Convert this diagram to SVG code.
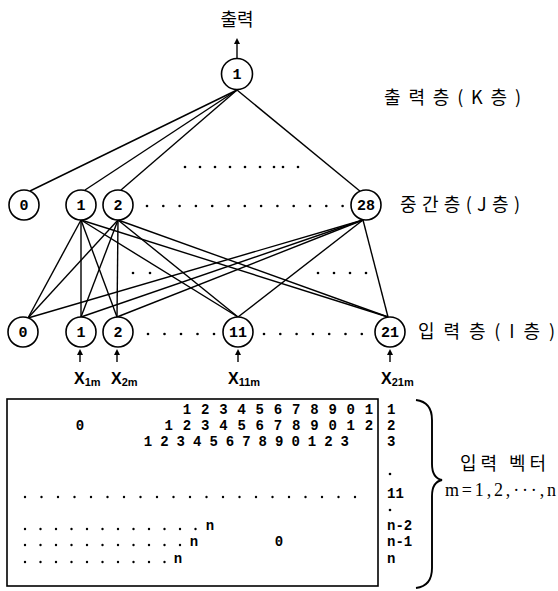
<svg xmlns="http://www.w3.org/2000/svg" width="558" height="591" viewBox="0 0 558 591">
<style>
.n{fill:#fff;stroke:#000;stroke-width:1.6}
.nl{font-family:"Liberation Mono","DejaVu Sans Mono",monospace;font-weight:bold;font-size:15px;text-anchor:middle}
.ko{font-family:"Noto Sans CJK KR","Noto Sans",sans-serif;font-size:18px}
.lat{font-family:"Liberation Serif",serif;font-size:18px}
.dg{font-family:"Liberation Mono","DejaVu Sans Mono",monospace;font-weight:bold;font-size:14px;text-anchor:middle}
.rl{font-family:"Liberation Mono","DejaVu Sans Mono",monospace;font-weight:bold;font-size:14px}
.xl{font-family:"Liberation Sans",Arial,sans-serif;font-weight:bold;font-size:16px}
.xs{font-size:11px}
.c line{stroke:#000;stroke-width:1.4}
.ar{stroke:#000;stroke-width:1.6}
.d{fill:#000}
</style>
<defs>
<marker id="ah" markerWidth="6" markerHeight="6" refX="3" refY="3" orient="auto" markerUnits="userSpaceOnUse">
<path d="M0,0 L6,3 L0,6 Z" fill="#000"/>
</marker>
</defs>

<g id="connectors" class="c">
<line x1="237" y1="90" x2="30" y2="191"/>
<line x1="237" y1="90" x2="85" y2="190"/>
<line x1="237" y1="90" x2="121" y2="190"/>
<line x1="237" y1="90" x2="361" y2="192"/>
<line x1="81" y1="220" x2="28" y2="318"/>
<line x1="81" y1="220" x2="81" y2="317"/>
<line x1="81" y1="220" x2="117" y2="317"/>
<line x1="81" y1="220" x2="238" y2="317"/>
<line x1="81" y1="220" x2="388" y2="317"/>
<line x1="118" y1="220" x2="28" y2="318"/>
<line x1="118" y1="220" x2="81" y2="317"/>
<line x1="118" y1="220" x2="117" y2="317"/>
<line x1="118" y1="220" x2="238" y2="317"/>
<line x1="118" y1="220" x2="388" y2="317"/>
<line x1="363" y1="220" x2="28" y2="318"/>
<line x1="363" y1="220" x2="81" y2="317"/>
<line x1="363" y1="220" x2="117" y2="317"/>
<line x1="363" y1="220" x2="238" y2="317"/>
<line x1="363" y1="220" x2="388" y2="317"/>
<line class="ar" x1="237" y1="58" x2="237" y2="41" marker-end="url(#ah)"/>
<line class="ar" x1="80" y1="362" x2="80" y2="352" marker-end="url(#ah)"/>
<line class="ar" x1="117" y1="362" x2="117" y2="352" marker-end="url(#ah)"/>
<line class="ar" x1="238" y1="362" x2="238" y2="352" marker-end="url(#ah)"/>
<line class="ar" x1="390" y1="362" x2="390" y2="352" marker-end="url(#ah)"/>
</g>

<text class="ko" x="237" y="26" text-anchor="middle">출력</text>
<g id="out1"><circle class="n" cx="237" cy="74" r="15.5"/><text class="nl" x="237" y="79">1</text></g>
<text class="ko" x="384" y="104" textLength="137" lengthAdjust="spacing">출력층(K층)</text>

<g class="d">
<circle cx="185" cy="167" r="1.3"/><circle cx="200" cy="167" r="1.3"/><circle cx="215" cy="167" r="1.3"/><circle cx="230" cy="167" r="1.3"/><circle cx="245" cy="167" r="1.3"/><circle cx="260" cy="167" r="1.3"/><circle cx="274" cy="167" r="1.3"/><circle cx="283" cy="167" r="1.3"/><circle cx="298" cy="167" r="1.3"/>
</g>

<g id="h0"><circle class="n" cx="24" cy="205" r="15"/><text class="nl" x="24" y="210">0</text></g>
<g id="h1"><circle class="n" cx="81" cy="205" r="15"/><text class="nl" x="81" y="210">1</text></g>
<g id="h2"><circle class="n" cx="118" cy="205" r="15"/><text class="nl" x="118" y="210">2</text></g>
<g id="h28"><circle class="n" cx="366" cy="205" r="15"/><text class="nl" x="366" y="210">28</text></g>
<text class="ko" x="400" y="211" textLength="120" lengthAdjust="spacing">중간층(J층)</text>
<g class="d">
<circle cx="147" cy="206" r="1.3"/><circle cx="163.3" cy="206" r="1.3"/><circle cx="179.6" cy="206" r="1.3"/><circle cx="195.9" cy="206" r="1.3"/><circle cx="212.2" cy="206" r="1.3"/><circle cx="228.5" cy="206" r="1.3"/><circle cx="244.8" cy="206" r="1.3"/><circle cx="261.1" cy="206" r="1.3"/><circle cx="277.4" cy="206" r="1.3"/><circle cx="293.7" cy="206" r="1.3"/><circle cx="310" cy="206" r="1.3"/><circle cx="326.3" cy="206" r="1.3"/><circle cx="342.6" cy="206" r="1.3"/>
<circle cx="133" cy="273" r="1.3"/><circle cx="150" cy="273" r="1.3"/>
<circle cx="318" cy="273" r="1.3"/><circle cx="334" cy="273" r="1.3"/><circle cx="350" cy="273" r="1.3"/><circle cx="366" cy="273" r="1.3"/>
</g>

<g id="i0"><circle class="n" cx="23" cy="332" r="15"/><text class="nl" x="23" y="337">0</text></g>
<g id="i1"><circle class="n" cx="81" cy="332" r="15"/><text class="nl" x="81" y="337">1</text></g>
<g id="i2"><circle class="n" cx="118" cy="332" r="15"/><text class="nl" x="118" y="337">2</text></g>
<g id="i11"><circle class="n" cx="238" cy="332" r="15"/><text class="nl" x="238" y="337">11</text></g>
<g id="i21"><circle class="n" cx="390" cy="332" r="15"/><text class="nl" x="390" y="337">21</text></g>
<text class="ko" x="418" y="338" textLength="137" lengthAdjust="spacing">입력층(I층)</text>
<g class="d">
<circle cx="148" cy="334" r="1.3"/><circle cx="164.5" cy="334" r="1.3"/><circle cx="181" cy="334" r="1.3"/><circle cx="197.5" cy="334" r="1.3"/><circle cx="214" cy="334" r="1.3"/>
<circle cx="264" cy="334" r="1.3"/><circle cx="280.3" cy="334" r="1.3"/><circle cx="296.6" cy="334" r="1.3"/><circle cx="312.9" cy="334" r="1.3"/><circle cx="329.2" cy="334" r="1.3"/><circle cx="345.5" cy="334" r="1.3"/><circle cx="361.8" cy="334" r="1.3"/>
</g>

<text class="xl" x="74" y="384">X<tspan class="xs" dy="2">1m</tspan></text>
<text class="xl" x="111" y="384">X<tspan class="xs" dy="2">2m</tspan></text>
<text class="xl" x="228" y="384">X<tspan class="xs" dy="2">11m</tspan></text>
<text class="xl" x="381" y="384">X<tspan class="xs" dy="2">21m</tspan></text>

<g id="vectors">
<rect x="7" y="399" width="371" height="187" fill="none" stroke="#000" stroke-width="1.6"/>
<text class="dg" y="414" x="187 205.2 223.4 241.6 259.8 278 296.2 314.4 332.6 350.8 369">12345678901</text>
<text class="dg" y="430" x="80">0</text>
<text class="dg" y="430" x="168.8 187 205.2 223.4 241.6 259.8 278 296.2 314.4 332.6 350.8 369">123456789012</text>
<text class="dg" y="446" x="148 164.4 180.8 197.2 213.6 230 246.4 262.8 279.2 295.6 312 328.4 344.8">1234567890123</text>
<g class="d">
<circle cx="25" cy="497" r="1.2"/><circle cx="41.5" cy="497" r="1.2"/><circle cx="58" cy="497" r="1.2"/><circle cx="74.5" cy="497" r="1.2"/><circle cx="91" cy="497" r="1.2"/><circle cx="107.5" cy="497" r="1.2"/><circle cx="124" cy="497" r="1.2"/><circle cx="140.5" cy="497" r="1.2"/><circle cx="157" cy="497" r="1.2"/><circle cx="173.5" cy="497" r="1.2"/><circle cx="190" cy="497" r="1.2"/><circle cx="206.5" cy="497" r="1.2"/><circle cx="223" cy="497" r="1.2"/><circle cx="239.5" cy="497" r="1.2"/><circle cx="256" cy="497" r="1.2"/><circle cx="272.5" cy="497" r="1.2"/><circle cx="289" cy="497" r="1.2"/><circle cx="305.5" cy="497" r="1.2"/><circle cx="322" cy="497" r="1.2"/><circle cx="338.5" cy="497" r="1.2"/><circle cx="355" cy="497" r="1.2"/>
<circle cx="25" cy="529" r="1.2"/><circle cx="40.5" cy="529" r="1.2"/><circle cx="56" cy="529" r="1.2"/><circle cx="71.5" cy="529" r="1.2"/><circle cx="87" cy="529" r="1.2"/><circle cx="102.5" cy="529" r="1.2"/><circle cx="118" cy="529" r="1.2"/><circle cx="133.5" cy="529" r="1.2"/><circle cx="149" cy="529" r="1.2"/><circle cx="164.5" cy="529" r="1.2"/><circle cx="180" cy="529" r="1.2"/><circle cx="195.5" cy="529" r="1.2"/>
<circle cx="25" cy="545" r="1.2"/><circle cx="40.5" cy="545" r="1.2"/><circle cx="56" cy="545" r="1.2"/><circle cx="71.5" cy="545" r="1.2"/><circle cx="87" cy="545" r="1.2"/><circle cx="102.5" cy="545" r="1.2"/><circle cx="118" cy="545" r="1.2"/><circle cx="133.5" cy="545" r="1.2"/><circle cx="149" cy="545" r="1.2"/><circle cx="164.5" cy="545" r="1.2"/><circle cx="180" cy="545" r="1.2"/>
<circle cx="25" cy="562" r="1.2"/><circle cx="40.5" cy="562" r="1.2"/><circle cx="56" cy="562" r="1.2"/><circle cx="71.5" cy="562" r="1.2"/><circle cx="87" cy="562" r="1.2"/><circle cx="102.5" cy="562" r="1.2"/><circle cx="118" cy="562" r="1.2"/><circle cx="133.5" cy="562" r="1.2"/><circle cx="149" cy="562" r="1.2"/><circle cx="164.5" cy="562" r="1.2"/>
<circle cx="390" cy="474" r="1.3"/><circle cx="390" cy="510" r="1.3"/>
</g>
<text class="dg" x="210" y="530">n</text>
<text class="dg" x="194" y="546">n</text>
<text class="dg" x="279" y="546">0</text>
<text class="dg" x="178" y="563">n</text>
<text class="rl" x="387" y="414">1</text>
<text class="rl" x="387" y="430">2</text>
<text class="rl" x="387" y="446">3</text>
<text class="rl" x="387" y="498">11</text>
<text class="rl" x="387" y="530">n-2</text>
<text class="rl" x="387" y="546">n-1</text>
<text class="rl" x="387" y="563">n</text>
</g>

<g id="brace">
<path d="M416 400 Q432 402 432 420 L432 464 Q432 478 442 480 Q432 482 432 496 L432 568 Q432 586 416 588" fill="none" stroke="#000" stroke-width="1.9"/>
<text class="ko" x="460" y="470" textLength="86" lengthAdjust="spacing">입력 벡터</text>
<text class="lat" x="445" y="496" textLength="111" lengthAdjust="spacing">m=1,2,···,n</text>
</g>
</svg>
